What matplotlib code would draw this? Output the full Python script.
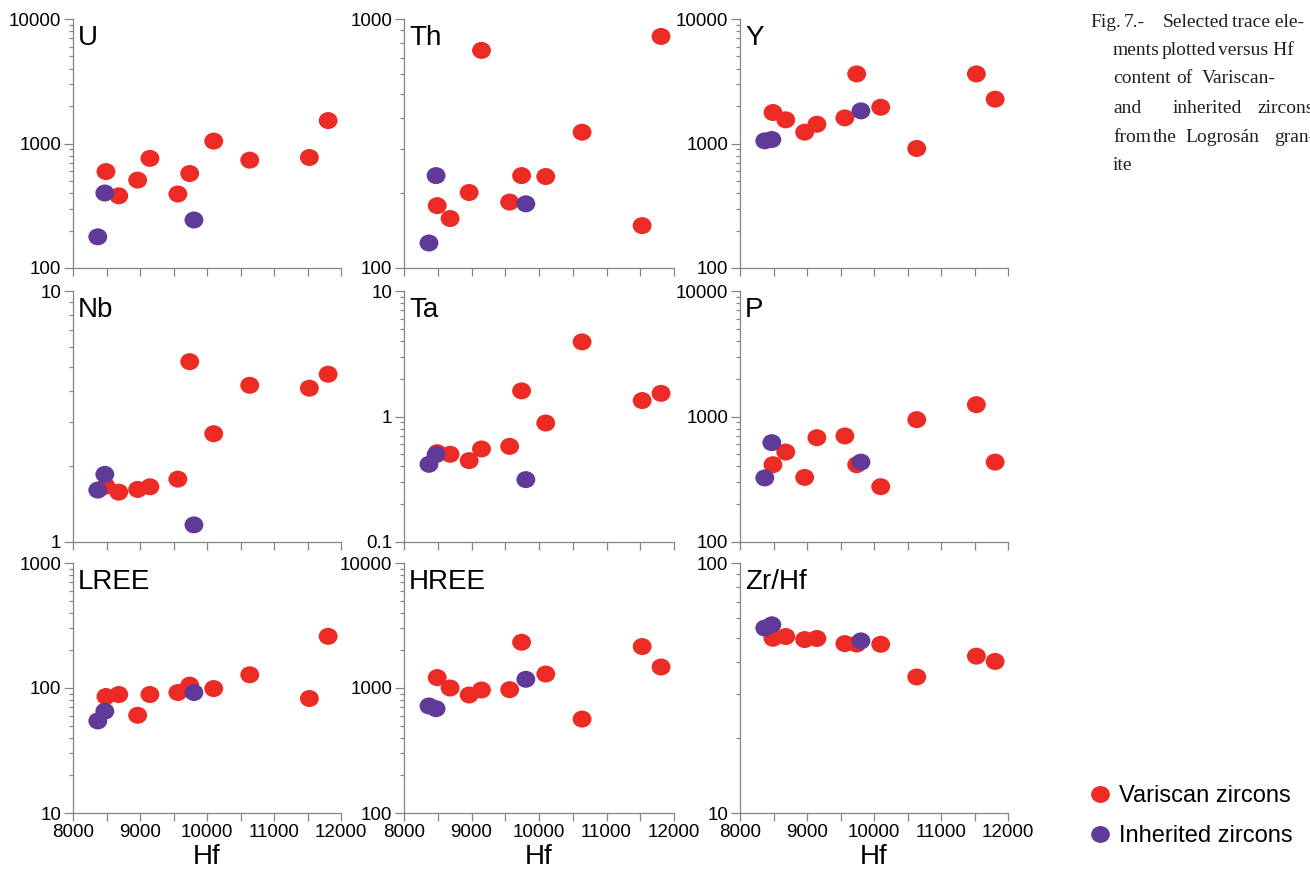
import matplotlib
matplotlib.use("Agg")
import matplotlib.pyplot as plt
from matplotlib.path import Path
from matplotlib.transforms import Affine2D
from matplotlib.ticker import LogLocator, FuncFormatter, MultipleLocator, NullFormatter
from matplotlib import font_manager

# Hf content (x) of each zircon group
hf_variscan = [8492, 8683, 8965, 9148, 9565, 9742, 10100, 10638, 11528, 11808]
hf_inherited = [8370, 8475, 9805]

# trace elements, same order as the Hf lists
u_var = [595, 380, 508, 759, 393, 574, 1045, 735, 772, 1528]
u_inh = [178, 400, 243]
th_var = [178, 158, 201, 748, 184, 235, 233, 351, 148, 851]
th_inh = [126, 235, 181]
y_var = [1774, 1549, 1233, 1429, 1606, 3622, 1955, 912, 3622, 2270]
y_inh = [1050, 1077, 1828]
nb_var = [1.67, 1.58, 1.62, 1.66, 1.78, 5.23, 2.70, 4.21, 4.10, 4.66]
nb_inh = [1.61, 1.86, 1.17]
ta_var = [0.515, 0.50, 0.445, 0.551, 0.578, 1.60, 0.887, 3.93, 1.34, 1.53]
ta_inh = [0.416, 0.497, 0.314]
p_var = [413, 521, 327, 678, 700, 413, 276, 944, 1242, 433]
p_inh = [324, 619, 433]
lree_var = [85.5, 88.7, 60.5, 88.7, 92, 105.4, 99, 127.6, 82.4, 259]
lree_inh = [54.5, 65.2, 92]
hree_var = [1211, 1000, 879, 964, 970, 2323, 1294, 564, 2146, 1472]
hree_inh = [718, 683, 1174]
zrhf_var = [50.0, 50.8, 49.4, 49.9, 47.6, 47.4, 47.3, 35.0, 42.4, 40.4]
zrhf_inh = [54.9, 56.6, 48.8]

panel_names = ["U", "Th", "Y", "Nb", "Ta", "P", "LREE", "HREE", "Zr/Hf"]
panel_var = [u_var, th_var, y_var, nb_var, ta_var, p_var, lree_var, hree_var, zrhf_var]
panel_inh = [u_inh, th_inh, y_inh, nb_inh, ta_inh, p_inh, lree_inh, hree_inh, zrhf_inh]
panel_ylim = [(100, 10000), (100, 1000), (100, 10000),
              (1, 10), (0.1, 10), (100, 10000),
              (10, 1000), (100, 10000), (10, 100)]

RED = "#ED2B25"
PURPLE = "#603A99"
GRAY = "#858585"

fonts = {f.name for f in font_manager.fontManager.ttflist}
SANS = "Liberation Sans"
NARROW = "Liberation Sans Narrow" if "Liberation Sans Narrow" in fonts else "Liberation Sans"
SERIF = "Liberation Serif"
plt.rcParams["font.family"] = [SANS, "DejaVu Sans"]

W, H = 1310, 873
fig = plt.figure(figsize=(W / 100, H / 100), dpi=100)

# slightly flattened ellipse marker
ellipse = Path.unit_circle().transformed(Affine2D().scale(1.0, 0.9))

# pixel boxes of the panels
cols = [(73, 341), (404, 674), (740, 1008)]
rows = [(19, 268), (291, 542), (563, 813)]

for i, name in enumerate(panel_names):
    r, c = divmod(i, 3)
    x0, x1 = cols[c]
    y0, y1 = rows[r]
    ax = fig.add_axes([x0 / W, 1 - y1 / H, (x1 - x0) / W, (y1 - y0) / H])
    ax.scatter(hf_variscan, panel_var[i], s=185, marker=ellipse, color=RED,
               edgecolors="none", zorder=3, clip_on=False)
    ax.scatter(hf_inherited, panel_inh[i], s=185, marker=ellipse, color=PURPLE,
               edgecolors="none", zorder=4, clip_on=False)
    ax.set_yscale("log")
    ax.set_ylim(*panel_ylim[i])
    ax.set_xlim(8000, 12000)
    ax.xaxis.set_major_locator(MultipleLocator(1000))
    ax.xaxis.set_minor_locator(MultipleLocator(500))
    ax.yaxis.set_major_locator(LogLocator(base=10))
    ax.yaxis.set_minor_locator(LogLocator(base=10, subs=range(2, 10)))
    ax.yaxis.set_major_formatter(FuncFormatter(lambda v, p: f"{v:g}"))
    ax.yaxis.set_minor_formatter(NullFormatter())
    for side in ("top", "right"):
        ax.spines[side].set_visible(False)
    for side in ("left", "bottom"):
        ax.spines[side].set_color(GRAY)
        ax.spines[side].set_linewidth(0.9)
    ax.tick_params(which="both", direction="out", color=GRAY, width=0.9,
                   labelsize=13.5, pad=2)
    ax.tick_params(axis="y", which="major", length=6.5)
    ax.tick_params(axis="y", which="minor", length=3)
    ax.tick_params(axis="x", which="both", length=6)
    if r < 2:
        ax.tick_params(axis="x", labelbottom=False)
    else:
        ax.set_xlabel("Hf", fontsize=20, labelpad=2)
    ax.annotate(name, xy=(0, 1), xycoords="axes fraction", xytext=(5, -6),
                textcoords="offset pixels", ha="left", va="top", fontsize=20)

# legend
handles = [
    plt.Line2D([], [], ls="none", marker=ellipse, markersize=13.5, color=RED, markeredgewidth=0),
    plt.Line2D([], [], ls="none", marker=ellipse, markersize=13.5, color=PURPLE, markeredgewidth=0),
]
fig.legend(handles, ["Variscan zircons", "Inherited zircons"], loc="upper left",
           bbox_to_anchor=(1078 / W, 1 - 773 / H), frameon=False,
           prop={"family": NARROW, "size": 17}, handlelength=0.9,
           handletextpad=0.35, labelspacing=0.78, borderpad=0)

# caption (justified column, cut at the right edge of the page)
caption = [
    (27, [(1090, "Fig."), (1124, "7.-"), (1163, "Selected"), (1232, "trace ele-")]),
    (55, [(1113, "ments"), (1162, "plotted"), (1218, "versus Hf")]),
    (83, [(1113, "content"), (1176, "of"), (1202, "Variscan-")]),
    (113, [(1113, "and"), (1173, "inherited"), (1258, "zircons")]),
    (142, [(1113, "from"), (1153, "the"), (1185, "Logrosán"), (1274, "gran-")]),
    (170, [(1113, "ite")]),
]
for yb, words in caption:
    for xw, word in words:
        fig.text(xw / W, 1 - yb / H, word, family=SERIF, fontsize=14,
                 ha="left", va="baseline", color="#231F20")

fig.savefig("out.png", dpi=100)
